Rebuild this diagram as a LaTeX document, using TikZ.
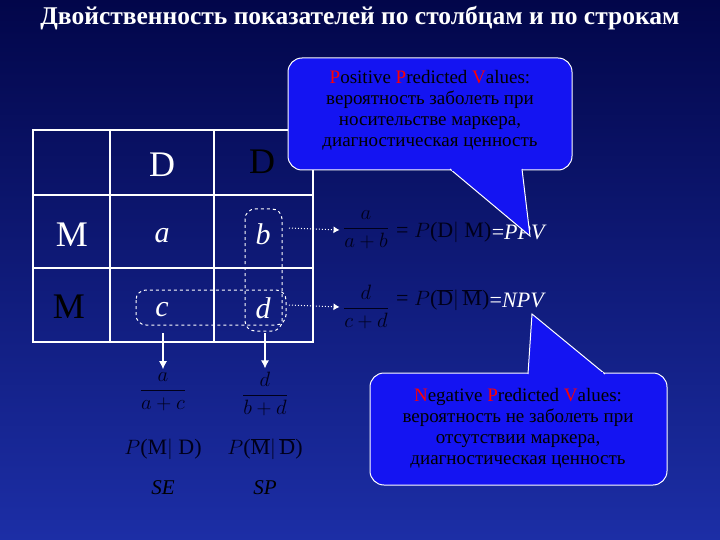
\documentclass[tikz,border=0pt]{standalone}
\usepackage{fontspec}
\setmainfont{Liberation Serif}
\usetikzlibrary{arrows.meta}
\definecolor{bgtop}{HTML}{02064A}
\definecolor{bgbot}{HTML}{1C2EA6}
\definecolor{call}{HTML}{1414F2}
\definecolor{ink}{HTML}{00001A}
\tikzset{
  cell/.style={font=\fontsize{36}{40}\selectfont},
  it/.style={font=\fontsize{30}{34}\selectfont\itshape},
  dark/.style={text=ink,font=\fontsize{22}{24}\selectfont},
  callbody/.style={fill=call, draw=white, line width=1pt, rounded corners=14pt},
  calltext/.style={align=center, font=\fontsize{19}{21}\selectfont, text=black},
  dashbox/.style={draw=white, dashed, line width=1pt, rounded corners=10pt},
  dotarr/.style={draw=white, dotted, line width=1pt, -{Latex[length=6pt,width=7pt]}},
  downarr/.style={draw=white, line width=1.2pt, -{Latex[length=8pt,width=8pt]}},
}
\newcommand{\rd}[1]{\textcolor{red}{#1}}
\newcommand{\dfr}[2]{$\displaystyle\frac{#1}{#2}$}
\begin{document}
\begin{tikzpicture}[x=1pt,y=-1pt]
\shade[top color=bgtop,bottom color=bgbot] (0,0) rectangle (720,540);
\useasboundingbox (0,0) rectangle (720,540);
\node[text=white,font=\fontsize{25.5}{28}\selectfont\bfseries] (title) at (360,18) {Двойственность показателей по столбцам и по строкам};
% table
\draw[white,line width=1.5pt] (33,130) rectangle (313,342);
\foreach \x in {110,214} \draw[white,line width=1.2pt] (\x,130) -- (\x,342);
\foreach \y in {195,268} \draw[white,line width=1.2pt] (33,\y) -- (313,\y);
\node[cell,text=white] (D) at (162,165) {D};
\node[cell,text=black] (Dn) at (262,162) {D};
\node[cell,text=white] (M) at (72,235) {M};
\node[cell,text=black] (Mn) at (69,307) {M};
\node[it,text=white] (a) at (162,236) {a};
\node[it,text=white] (b) at (263,234) {b};
\node[it,text=white] (c) at (162,310) {c};
\node[it,text=white] (d) at (263,308) {d};
\draw[dashbox] (245,209) rectangle (282,331);
\draw[dashbox] (136,290) rectangle (286,325);
% right formulas
\coordinate (bR) at (289,228);
\coordinate (dR) at (289,305);
\node[dark] (f1) at (366,230) {\dfr{a}{a+b}};
\node[dark] (f2) at (366,307) {\dfr{d}{c+d}};
\draw[dotarr] (bR) -- (f1.west);
\draw[dotarr] (dR) -- (f2.west);
\node[dark,anchor=west,inner sep=0] (p1) at (396,232) {= $P$(D$|$ M)};
\node[text=white,anchor=west,inner sep=0,font=\fontsize{22}{24}\selectfont] (ppv) at (p1.east) {=\textit{PPV}};
\node[dark,anchor=west,inner sep=0] (p2) at (396,300) {= $P$($\overline{\mathrm{D}}|\,\overline{\mathrm{M}}$)};
\node[text=white,anchor=west,inner sep=0,font=\fontsize{22}{24}\selectfont] (npv) at (p2.east) {=\textit{NPV}};
% bottom formulas
\coordinate (cB) at (163,333);
\coordinate (dB) at (265,333);
\node[dark] (g1) at (163,392) {\dfr{a}{a+c}};
\node[dark] (g2) at (265,394) {\dfr{d}{b+d}};
\draw[downarr] (cB) -- (g1.north);
\draw[downarr] (dB) -- (g2.north);
\node[dark] (q1) at (163,449) {$P$(M$|$ D)};
\node[dark] (q2) at (265,449) {$P$($\overline{\mathrm{M}}|\,\overline{\mathrm{D}}$)};
\node[text=black,font=\fontsize{21}{22}\selectfont\itshape] (se) at (163,488) {SE};
\node[text=black,font=\fontsize{21}{22}\selectfont\itshape] (sp) at (265,488) {SP};
% callout 1
\draw[callbody] (288,58) rectangle (572,170);
\filldraw[fill=call,draw=white,line width=1pt] (450,169) -- (530,236) -- (522,169);
\fill[call] (451.5,167) rectangle (520.5,171.5);
\node[calltext] (c1) at (430,110)
 {\rd{P}ositive \rd{P}redicted \rd{V}alues:\\ вероятность заболеть при\\ носительстве маркера,\\ диагностическая ценность};
% callout 2
\draw[callbody] (370,373) rectangle (667,485);
\filldraw[fill=call,draw=white,line width=1pt] (528,374) -- (532,314) -- (605,374);
\fill[call] (529.5,372) rectangle (603,376);
\node[calltext] (c2) at (518,428)
 {\rd{N}egative \rd{P}redicted \rd{V}alues:\\ вероятность не заболеть при\\ отсутствии маркера,\\ диагностическая ценность};
\end{tikzpicture}
\end{document}
